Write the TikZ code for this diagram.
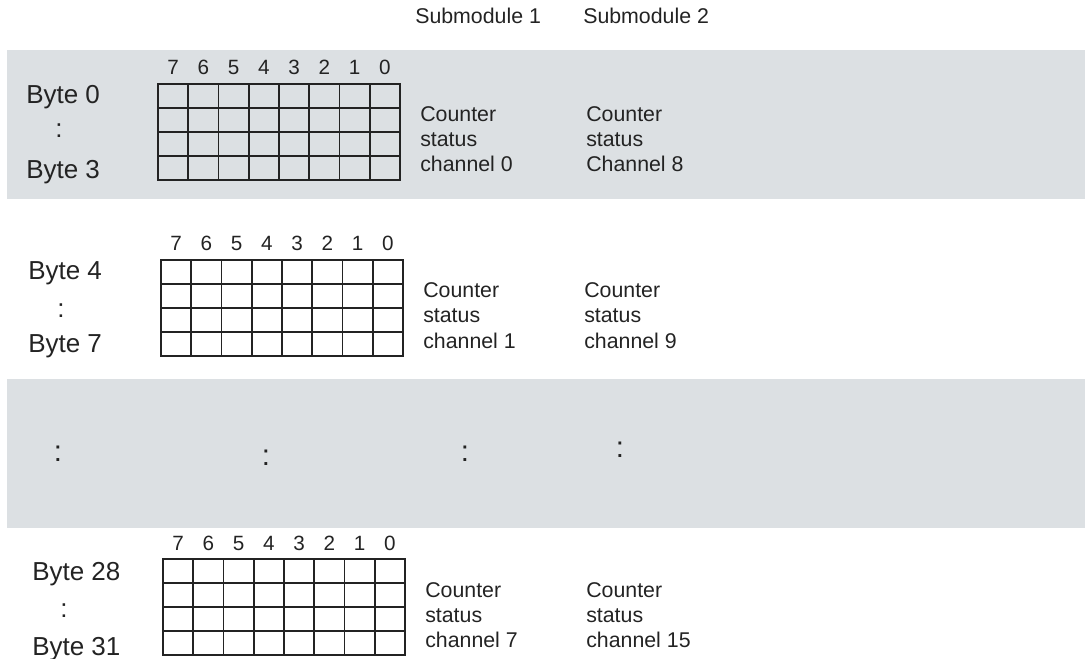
\documentclass[tikz,border=0pt]{standalone}
\usepackage{fontspec}
\setmainfont{Liberation Sans}
\definecolor{band}{RGB}{220,224,227}
\definecolor{ink}{RGB}{35,35,35}
\newcommand\bytegrid[3]{%
  \foreach \i in {0,...,8} \draw[gridline] ({#2+\i*30.25},#3) -- ({#2+\i*30.25},{#3+96});
  \foreach \j in {0,...,4} \draw[gridline] (#2,{#3+\j*24}) -- ({#2+242},{#3+\j*24});
  \foreach \b [count=\k from 0] in {7,6,5,4,3,2,1,0}
    \node[bit] (#1b\b) at ({#2+15.125+\k*30.25},{#3-9}) {\b};
}
\begin{document}
\begin{tikzpicture}[x=0.75pt,y=-0.75pt,
  txt/.style={anchor=base west, inner sep=0pt, font=\fontsize{16}{19}\selectfont, text=ink},
  bytelbl/.style={anchor=base west, inner sep=0pt, font=\fontsize{19.5}{23}\selectfont, text=ink},
  bigcolon/.style={anchor=base, inner sep=0pt, font=\fontsize{19.5}{23}\selectfont, text=ink},
  midcolon/.style={anchor=base, inner sep=0pt, font=\fontsize{22}{26}\selectfont, text=ink},
  bit/.style={anchor=base, inner sep=0pt, font=\fontsize{15.5}{18}\selectfont, text=ink},
  gridline/.style={draw=ink, line width=1.2pt, line cap=rect}]
\useasboundingbox (0,0) rectangle (1085,659);
\fill[band] (7,50) rectangle (1085,199);
\fill[band] (7,379) rectangle (1085,528);

% header
\node[txt] (sub1) at (415,24) {Submodule 1};
\node[txt] (sub2) at (583,24) {Submodule 2};

% block 1
\bytegrid{ga}{158}{84}
\node[bytelbl] (b0) at (26,104) {Byte 0};
\node[bigcolon] (b0c) at (59,138) {:};
\node[bytelbl] (b3) at (26,179) {Byte 3};
\node[txt] (a1) at (420,122) {Counter};
\node[txt] (a2) at (420,147) {status};
\node[txt] (a3) at (420,172) {channel 0};
\node[txt] (a4) at (586,122) {Counter};
\node[txt] (a5) at (586,147) {status};
\node[txt] (a6) at (586,172) {Channel 8};

% block 2
\bytegrid{gb}{161}{260}
\node[bytelbl] (b4) at (28,280) {Byte 4};
\node[bigcolon] (b4c) at (61,317) {:};
\node[bytelbl] (b7) at (28,352) {Byte 7};
\node[txt] (c1) at (423,298) {Counter};
\node[txt] (c2) at (423,323) {status};
\node[txt] (c3) at (423,348) {channel 1};
\node[txt] (c4) at (584,298) {Counter};
\node[txt] (c5) at (584,323) {status};
\node[txt] (c6) at (584,348) {channel 9};

% middle band colons
\node[midcolon] (m1) at (58,461) {:};
\node[midcolon] (m2) at (266,465) {:};
\node[midcolon] (m3) at (465,461) {:};
\node[midcolon] (m4) at (620,457) {:};

% block 3
\bytegrid{gc}{163}{559}
\node[bytelbl] (b28) at (32,580) {Byte 28};
\node[bigcolon] (b28c) at (64,617) {:};
\node[bytelbl] (b31) at (32,655) {Byte 31};
\node[txt] (d1) at (425,597) {Counter};
\node[txt] (d2) at (425,622) {status};
\node[txt] (d3) at (425,647) {channel 7};
\node[txt] (d4) at (586,597) {Counter};
\node[txt] (d5) at (586,622) {status};
\node[txt] (d6) at (586,647) {channel 15};
\end{tikzpicture}
\end{document}
